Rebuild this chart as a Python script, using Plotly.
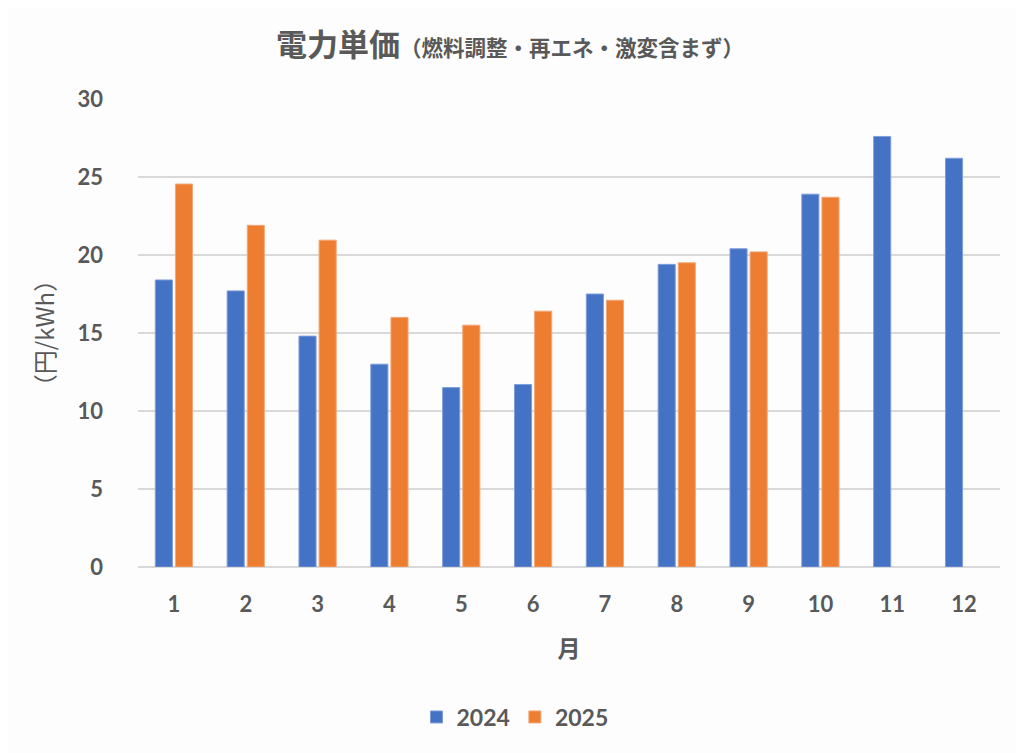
import plotly.graph_objects as go

months = [str(m) for m in range(1, 13)]
values_2024 = [18.4, 17.7, 14.8, 13.0, 11.5, 11.7, 17.5, 19.4, 20.4, 23.9, 27.6, 26.2]
values_2025 = [24.55, 21.9, 20.95, 16.0, 15.5, 16.4, 17.1, 19.5, 20.2, 23.7, None, None]
series_names = ["2024", "2025"]
title_main = "電力単価"
title_sub = "（燃料調整・再エネ・激変含まず）"
x_title = "月"
y_title = "（円/kWh）"

FONT = "Lato, Open Sans, Noto Sans CJK JP, sans-serif"
CJK = "Noto Sans CJK JP"
GRAY = "#595959"

# page body has an 8px margin: figure coordinates = screen - 8
OFF = 8
W, H = 1024 - OFF, 753 - OFF
L, T = 138 - OFF, 99 - OFF
R = W - (1000 - OFF)
B = H - (567 - OFF)
pw = W - L - R
ph = H - T - B

def px_x(x):
    return (x - OFF - L) / pw

def px_y(y):
    return (T + ph - (y - OFF)) / ph

fig = go.Figure()
fig.add_trace(go.Bar(x=months, y=values_2024, name=series_names[0],
                     marker=dict(color="#4472c4", line=dict(color="#7f9ed8", width=1))))
fig.add_trace(go.Bar(x=months, y=values_2025, name=series_names[1],
                     marker=dict(color="#ed7d31", line=dict(color="#f4a677", width=1))))

fig.update_layout(
    width=W, height=H,
    margin=dict(l=L, r=R, t=T, b=B),
    paper_bgcolor="#fdfdfd", plot_bgcolor="#fdfdfd",
    barmode="group", bargap=0.44, bargroupgap=0.15,
    font=dict(family=FONT, color=GRAY),
    showlegend=True,
    legend=dict(orientation="h", x=px_x(515), xanchor="center",
                y=px_y(717), yanchor="middle",
                font=dict(size=23, family=FONT, color=GRAY, weight="bold"),
                itemwidth=30, traceorder="normal"),
    xaxis=dict(showgrid=False, showline=False, ticks="", ticklabelstandoff=22,
               tickfont=dict(size=22, family=FONT, color=GRAY, weight="bold"),
               title=dict(text=x_title, font=dict(size=23, family=CJK, color=GRAY, weight="bold"),
                          standoff=24)),
    yaxis=dict(range=[0, 30], dtick=5, showgrid=True, gridcolor="#d9d9d9", gridwidth=1.5,
               zeroline=True, zerolinecolor="#d9d9d9", zerolinewidth=1.5,
               showline=False, ticks="", ticklabelstandoff=34,
               tickfont=dict(size=22, family=FONT, color=GRAY, weight="bold"),
               title=dict(text=y_title, font=dict(size=24, family=CJK, color=GRAY),
                          standoff=16)),
)

fig.add_annotation(
    xref="paper", yref="paper",
    x=px_x(510), y=px_y(43), xanchor="center", yanchor="middle",
    showarrow=False,
    text=f"<b>{title_main}</b><span style='font-size:21.5px'><b>{title_sub}</b></span>",
    font=dict(size=31, family=CJK, color=GRAY),
)

fig.write_html("out.html")
